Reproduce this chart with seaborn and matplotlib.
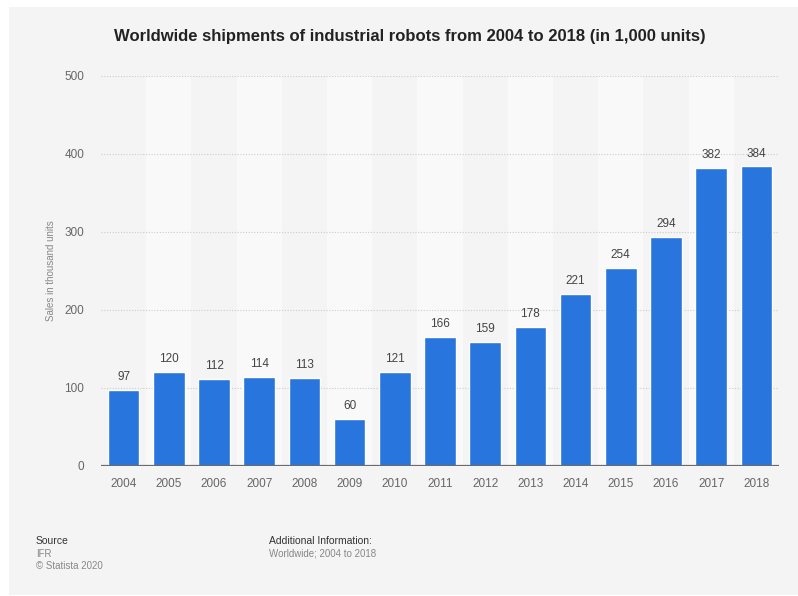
import matplotlib
matplotlib.use("Agg")
import matplotlib.pyplot as plt
from matplotlib.patches import Rectangle
import seaborn as sns
import pandas as pd

years = ["2004", "2005", "2006", "2007", "2008", "2009", "2010", "2011",
         "2012", "2013", "2014", "2015", "2016", "2017", "2018"]
shipments = [97, 120, 112, 114, 113, 60, 121, 166, 159, 178, 221, 254, 294, 382, 384]
y_ticks = [0, 100, 200, 300, 400, 500]

title = "Worldwide shipments of industrial robots from 2004 to 2018 (in 1,000 units)"
y_label = "Sales in thousand units"

sns.set_theme(style="white")
plt.rcParams["font.family"] = ["Liberation Sans", "DejaVu Sans"]

BG = "#f4f4f4"
STRIPE = "#f9f9f9"
BAR = "#2876dd"

df = pd.DataFrame({"year": years, "shipments": shipments})

fig = plt.figure(figsize=(7.98, 5.96), dpi=100)
fig.patch.set_facecolor("white")
fig.patches.append(Rectangle((9 / 798, 1 / 596), 1 - 9 / 798, 1 - 8 / 596,
                             transform=fig.transFigure, facecolor=BG,
                             edgecolor="none", zorder=-10))

ax = fig.add_axes([101 / 798, 1 - 466 / 596, (779 - 101) / 798, (466 - 76) / 596])
ax.set_facecolor(BG)
ax.patch.set_alpha(0)

# alternating column shading
for i in range(len(years)):
    if i % 2 == 1:
        ax.axvspan(i - 0.5, i + 0.5, ymin=0, ymax=1, color=STRIPE, zorder=0, lw=0)

sns.barplot(data=df, x="year", y="shipments", color=BAR, width=0.7,
            saturation=1, ax=ax, zorder=3)

ax.set_xlim(-0.5, len(years) - 0.5)
ax.set_ylim(0, 500)
ax.set_yticks(y_ticks)
ax.set_yticklabels([str(t) for t in y_ticks], fontsize=8.5, color="#666666")
ax.set_xticks(range(len(years)))
ax.set_xticklabels(years, fontsize=8.5, color="#666666")
ax.tick_params(axis="both", length=0)
ax.tick_params(axis="y", pad=12)
ax.tick_params(axis="x", pad=8.5)

for t in y_ticks[1:]:
    ax.axhline(t, color="#cccccc", lw=0.8, ls=(0, (1, 1.5)), zorder=1)
ax.axhline(0, color="#6b6b6b", lw=1.6, zorder=4)

for s in ax.spines.values():
    s.set_visible(False)

for i, v in enumerate(shipments):
    ax.annotate(str(v), (i, v), xytext=(0, 5), textcoords="offset points",
                ha="center", va="bottom", fontsize=8.5, color="#444444", zorder=5)

ax.set_xlabel("")
ax.set_ylabel(y_label, fontsize=7, color="#888888")
ax.yaxis.set_label_coords((56 - 101) / 678, 0.5)

fig.text(410 / 798, 1 - 37 / 596, title, ha="center", va="center",
         fontsize=12, fontweight="bold", color="#222222")

fig.text(36 / 798, 1 - 541 / 596, "Source", ha="left", va="center",
         fontsize=7.5, color="#333333")
fig.text(36 / 798, 1 - 554 / 596, "IFR", ha="left", va="center",
         fontsize=7, color="#888888")
fig.text(36 / 798, 1 - 566 / 596, "\u00a9 Statista 2020", ha="left", va="center",
         fontsize=7, color="#888888")
fig.text(269 / 798, 1 - 541 / 596, "Additional Information:", ha="left", va="center",
         fontsize=7.5, color="#333333")
fig.text(269 / 798, 1 - 554 / 596, "Worldwide; 2004 to 2018", ha="left", va="center",
         fontsize=7, color="#888888")

fig.savefig("out.png", dpi=100, facecolor=fig.get_facecolor())
